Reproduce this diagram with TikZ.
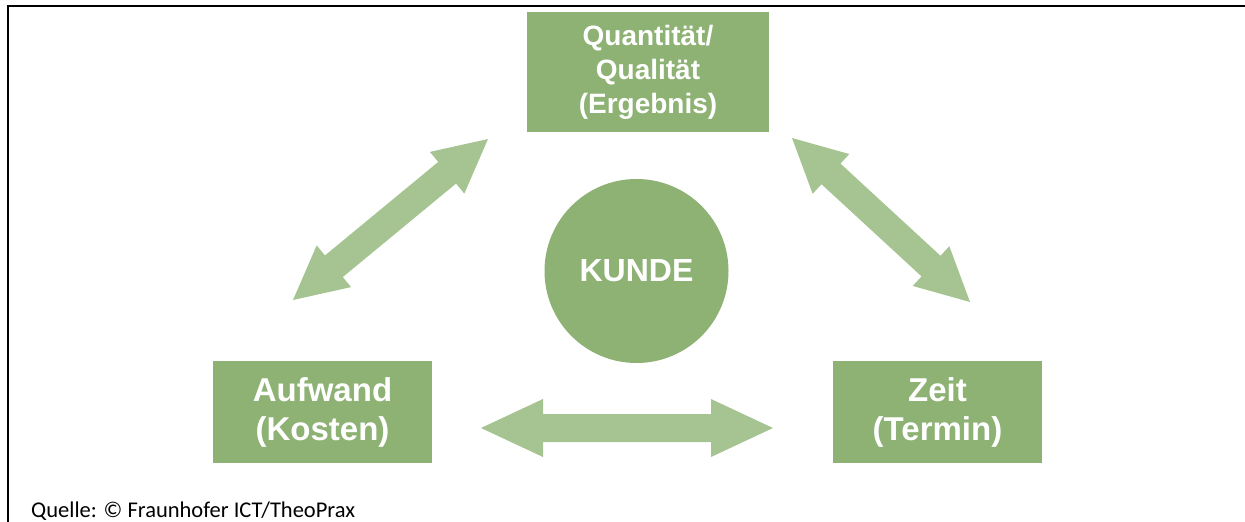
\documentclass[tikz,border=0pt]{standalone}
\usepackage{fontspec}
\setmainfont{Liberation Sans}
\newfontfamily\calfont{Carlito}
\usetikzlibrary{calc}
\definecolor{boxgreen}{HTML}{8DB274}
\definecolor{arrgreen}{HTML}{A5C491}
\tikzset{
  box/.style={fill=boxgreen, draw=none, text=white, align=center, inner sep=0pt},
  arrowfill/.style={fill=arrgreen, draw=none},
  frame/.style={draw=black, line width=2.2pt},
}
% #1 start, #2 end, #3 head length, #4 head half width, #5 shaft half width
\newcommand\dblarrow[5]{%
  \path[arrowfill] let \p1=($(#2)-(#1)$), \n1={atan2(\y1,\x1)} in
    (#1)
    -- ($(#1)+(\n1:#3)+(\n1+90:#4)$)
    -- ($(#1)+(\n1:#3)+(\n1+90:#5)$)
    -- ($(#2)+(\n1+180:#3)+(\n1+90:#5)$)
    -- ($(#2)+(\n1+180:#3)+(\n1+90:#4)$)
    -- (#2)
    -- ($(#2)+(\n1+180:#3)+(\n1-90:#4)$)
    -- ($(#2)+(\n1+180:#3)+(\n1-90:#5)$)
    -- ($(#1)+(\n1:#3)+(\n1-90:#5)$)
    -- ($(#1)+(\n1:#3)+(\n1-90:#4)$)
    -- cycle;}
\begin{document}
\begin{tikzpicture}[x=1pt,y=-1pt]
\useasboundingbox (0,0) rectangle (1245,522);
\fill[white] (0,0) rectangle (1245,522);
\draw[frame] (7.8,522) -- (7.8,5.7) -- (1245,5.7);

\node[box, minimum width=242pt, minimum height=120pt,
      font=\bfseries\fontsize{28}{34}\selectfont] (qual) at (648,72)
      {Quantität/\\Qualität\\(Ergebnis)};
\node[box, minimum width=219pt, minimum height=102pt,
      font=\bfseries\fontsize{33}{39}\selectfont] (aufw) at (322.5,412)
      {Aufwand\\(Kosten)};
\node[box, minimum width=209pt, minimum height=102pt,
      font=\bfseries\fontsize{33}{39}\selectfont] (zeit) at (937.5,412)
      {Zeit\\(Termin)};
\node[box, circle, minimum size=184pt,
      font=\bfseries\fontsize{32}{38}\selectfont] (kunde) at (636.5,271) {KUNDE};

\coordinate (la1) at (293,300);
\coordinate (la2) at (488,139);
\coordinate (ra1) at (792,138);
\coordinate (ra2) at (970,302);
\coordinate (ha1) at (481,428);
\coordinate (ha2) at (773,428);
\dblarrow{la1}{la2}{53pt}{27pt}{14pt}
\dblarrow{ra1}{ra2}{53pt}{27pt}{14pt}
\dblarrow{ha1}{ha2}{62pt}{29pt}{14pt}

\node[anchor=base west, inner sep=0pt, font=\calfont\fontsize{22.5}{26}\selectfont]
  (src) at (31,517) {Quelle: © Fraunhofer ICT/TheoPrax};
\end{tikzpicture}
\end{document}
